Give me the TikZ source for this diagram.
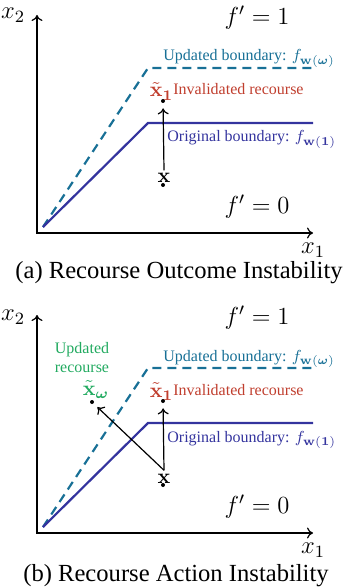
\documentclass[tikz,border=0pt]{standalone}
\usepackage{fix-cm}
\usepackage{amsmath}
\usepackage[no-math]{fontspec}
\setmainfont{Liberation Serif}
\usetikzlibrary{arrows.meta}

\definecolor{updblue}{RGB}{24,112,150}
\definecolor{origblue}{RGB}{52,52,158}
\definecolor{invred}{RGB}{192,62,46}
\definecolor{recgreen}{RGB}{34,170,96}

\begin{document}
\begin{tikzpicture}[
  x=0.5pt, y=-0.5pt,
  >={To[length=3pt,width=5.5pt]},
  axis/.style={<->, line width=0.6pt},
  bnd/.style={line width=1.1pt, line join=miter},
  upd/.style={bnd, updblue, dash pattern=on 4.5pt off 3pt},
  big/.style={font=\fontsize{12.3}{14}\selectfont, inner sep=0pt},
  sml/.style={font=\fontsize{8}{9.5}\selectfont, inner sep=0pt},
  plbl/.style={font=\fontsize{10.5}{12}\selectfont, inner sep=0pt},
  dotp/.style={circle, fill=black, inner sep=0pt, minimum size=2pt},
  mv/.style={->, line width=0.6pt, shorten >=2.5pt},
]
  \useasboundingbox (0,0) rectangle (350,588);

  % (a) outcome instability
  \coordinate (oa) at (37,233);
  \coordinate (ya) at (37,15);
  \coordinate (xa) at (313,233);
  \draw[axis] (ya) |- (xa);
  \node[big] (x2a) at (13,15) {$x_2$};
  \node[big] (x1a) at (313,250) {$x_1$};
  \node[big] (f1a) at (257,18) {$f'=1$};
  \node[big] (f0a) at (257,207) {$f'=0$};

  \coordinate (sa) at (43,227);
  \coordinate (uka) at (148,68);
  \coordinate (uea) at (313,68);
  \coordinate (oka) at (148,123);
  \coordinate (oea) at (313,123);
  \draw[upd] (sa) -- (uka) -- (uea);
  \draw[bnd, origblue] (sa) -- (oka) -- (oea);
  \node[sml, updblue, anchor=base west] (ulbla) at (163,61)
    {Updated boundary: $f_{\mathbf{w}(\boldsymbol{\omega})}$};
  \node[sml, origblue, anchor=base west] (olbla) at (167,142)
    {Original boundary: $f_{\mathbf{w}(\mathbf{1})}$};

  \node[dotp] (pxa) at (163,185) {};
  \node[plbl, anchor=base, inner sep=1.5pt] (lxa) at (164,183) {$\mathbf{x}$};
  \node[dotp] (pta) at (163,101) {};
  \node[plbl, invred, anchor=base] (lta) at (161.5,97) {$\tilde{\mathbf{x}}_{\mathbf{1}}$};
  \node[sml, invred, anchor=base west] (inva) at (173,95) {Invalidated recourse};
  \draw[mv] (lxa.north) -- (pta);

  \node[big] (capa) at (179,273) {(a) Recourse Outcome Instability};

  % (b) action instability, same plot 300 lower
  \begin{scope}[shift={(0,300)}]
    \coordinate (ob) at (37,233);
    \coordinate (yb) at (37,15);
    \coordinate (xb) at (313,233);
    \draw[axis] (yb) |- (xb);
    \node[big] (x2b) at (13,17) {$x_2$};
    \node[big] (x1b) at (313,250) {$x_1$};
    \node[big] (f1b) at (257,18) {$f'=1$};
    \node[big] (f0b) at (257,207) {$f'=0$};

    \coordinate (sb) at (43,227);
    \coordinate (ukb) at (148,68);
    \coordinate (ueb) at (313,68);
    \coordinate (okb) at (148,123);
    \coordinate (oeb) at (313,123);
    \draw[upd] (sb) -- (ukb) -- (ueb);
    \draw[bnd, origblue] (sb) -- (okb) -- (oeb);
    \node[sml, updblue, anchor=base west] (ulblb) at (163,61)
      {Updated boundary: $f_{\mathbf{w}(\boldsymbol{\omega})}$};
    \node[sml, origblue, anchor=base west] (olblb) at (167,142)
      {Original boundary: $f_{\mathbf{w}(\mathbf{1})}$};

    \node[dotp] (pxb) at (163,185) {};
    \node[plbl, anchor=base, inner sep=1.5pt] (lxb) at (164,183) {$\mathbf{x}$};
    \node[dotp] (ptb) at (163,101) {};
    \node[plbl, invred, anchor=base] (ltb) at (161.5,97) {$\tilde{\mathbf{x}}_{\mathbf{1}}$};
    \node[sml, invred, anchor=base west] (invb) at (173,95) {Invalidated recourse};
    \draw[mv] (lxb.north) -- (ptb);

    % updated recourse
    \node[dotp] (pwb) at (92,102) {};
    \node[plbl, recgreen, anchor=base] (lwb) at (96,95) {$\tilde{\mathbf{x}}_{\boldsymbol{\omega}}$};
    \node[sml, recgreen, align=center] (recb) at (82,58) {Updated\\recourse};
    \draw[mv] (lxb.north) -- (pwb);
  \end{scope}

  \node[big] (capb) at (176,576) {(b) Recourse Action Instability};
\end{tikzpicture}
\end{document}
